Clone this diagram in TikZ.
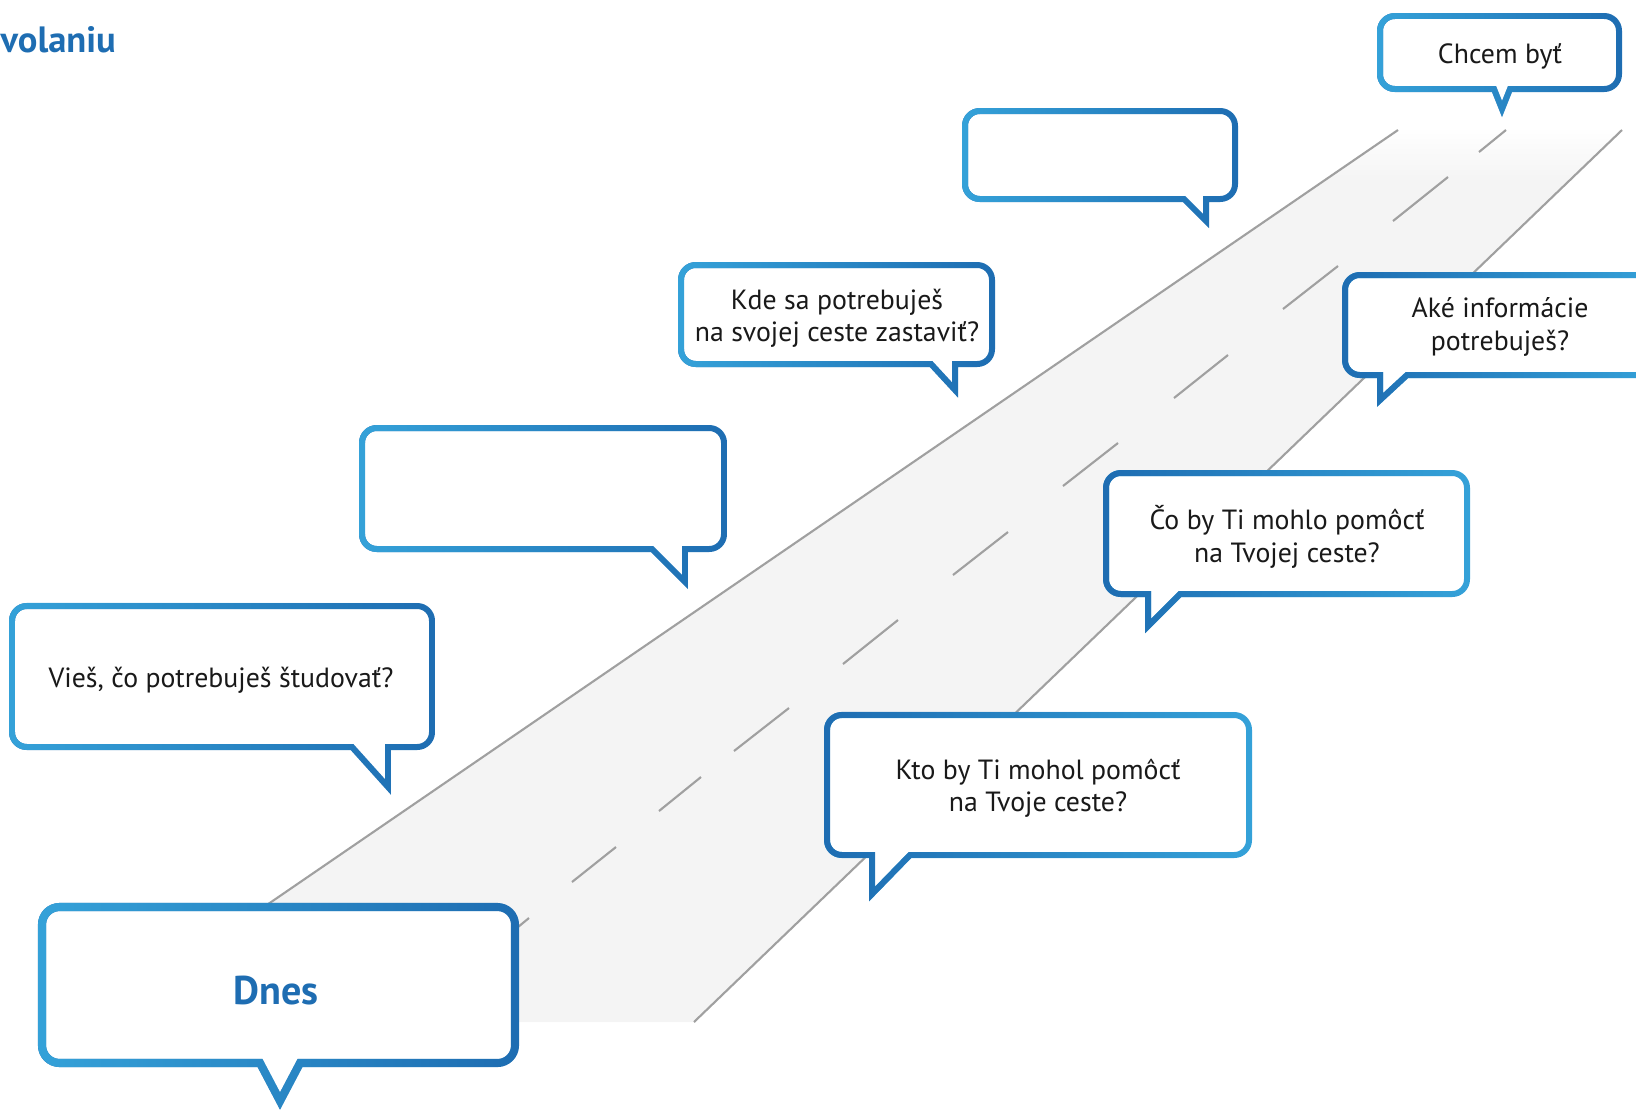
\documentclass[tikz,border=0pt]{standalone}
\usepackage{fontspec}
\setmainfont{PT Sans}
\usepackage{tikz}
\usetikzlibrary{fadings}
\definecolor{blight}{HTML}{35A2D9}
\definecolor{bdark}{HTML}{1E6DB2}
\definecolor{roadgray}{HTML}{F4F4F4}
\definecolor{linegray}{HTML}{A0A0A0}
\tikzfading[name=fadeR, left color=transparent!0, right color=transparent!100]
\tikzfading[name=fadeD, top color=transparent!0, bottom color=transparent!100]

\begin{document}
\begin{tikzpicture}[x=0.01cm,y=-0.01cm,
  roadline/.style={linegray,line width=0.6pt},
  laneline/.style={linegray,line width=0.6pt},
  bubbleLR/.style={line width=1.7pt,draw=bdark,fill=white,postaction={draw=blight,path fading=fadeR}},
  bubbleRL/.style={line width=1.7pt,draw=blight,fill=white,postaction={draw=bdark,path fading=fadeR}},
  txt/.style={inner sep=0pt,align=center,text=black!90,font=\fontsize{7.9}{9.2}\selectfont},
  bigtxt/.style={inner sep=0pt,text=bdark,font=\bfseries\fontsize{11.4}{13}\selectfont}]
\useasboundingbox (0,0) rectangle (1636,1111);
\clip (0,0) rectangle (1636,1111);
\fill[roadgray] (96,1022) -- (1398,130) -- (1622,130) -- (694,1022) -- cycle;
\fill[white,path fading=fadeD] (1300,128) rectangle (1640,185);
\draw[roadline] (96,1022) -- (1398,130);
\draw[roadline] (694,1022) -- (1622,130);
\foreach \xa/\ya/\xb/\yb in {1506/130/1479/152,1448/177/1393/221,1338/266/1283/309,1228/355/1174/398,
  1118/443/1063/486,1008/532/953/575,898/620/843/664,789/708/734/751,701/777/659/811,616/847/572/882,529/918/490/950}
  \draw[laneline] (\xa,\ya) -- (\xb,\yb);

\node[bigtxt,anchor=base west,font=\bfseries\fontsize{10.4}{12}\selectfont] (title) at (0,52) {volaniu};

\draw[bubbleLR] (1500,16) [rounded corners=4.2pt] -- (1619,16) -- (1619,89) [sharp corners] -- (1510,89) -- (1502,109) -- (1494,89) [rounded corners=4.2pt] -- (1380,89) -- (1380,16) -- cycle;
\draw[bubbleLR] (1100,111) [rounded corners=4.2pt] -- (1235,111) -- (1235,199) [sharp corners] -- (1206,199) -- (1206,221) -- (1184,199) [rounded corners=4.2pt] -- (965,199) -- (965,111) -- cycle;
\draw[bubbleLR] (836,265) [rounded corners=4.2pt] -- (992,265) -- (992,364) [sharp corners] -- (955,364) -- (955,390) -- (931,364) [rounded corners=4.2pt] -- (681,364) -- (681,265) -- cycle;
\draw[bubbleLR] (540,428) [rounded corners=4.2pt] -- (724,428) -- (724,549) [sharp corners] -- (685,549) -- (685,582) -- (652,549) [rounded corners=4.2pt] -- (362,549) -- (362,428) -- cycle;
\draw[bubbleLR] (220,606) [rounded corners=4.2pt] -- (432,606) -- (432,747) [sharp corners] -- (388,747) -- (388,787) -- (352,747) [rounded corners=4.2pt] -- (12,747) -- (12,606) -- cycle;
\draw[bubbleLR,line width=2.3pt] (280,907) [rounded corners=5pt] -- (515,907) -- (515,1063) [sharp corners] -- (300,1063) -- (280,1101) -- (260,1063) [rounded corners=5pt] -- (42,1063) -- (42,907) -- cycle;
\draw[bubbleRL] (1038,715) [rounded corners=4.2pt] -- (1249,715) -- (1249,855) [sharp corners] -- (910,855) -- (872,894) -- (872,855) [rounded corners=4.2pt] -- (827,855) -- (827,715) -- cycle;
\draw[bubbleRL] (1286,473) [rounded corners=4.2pt] -- (1467,473) -- (1467,594) [sharp corners] -- (1180,594) -- (1148,626) -- (1148,594) [rounded corners=4.2pt] -- (1106,594) -- (1106,473) -- cycle;
\draw[bubbleRL] (1500,275) [rounded corners=4.2pt] -- (1660,275) -- (1660,375) [sharp corners] -- (1407,375) -- (1380,400) -- (1380,375) [rounded corners=4.2pt] -- (1345,375) -- (1345,275) -- cycle;

\node[txt] (chcem) at (1500,56) {Chcem byť};
\node[txt] (kde) at (837,318) {Kde sa potrebuješ\\na svojej ceste zastaviť?};
\node[txt] (vies) at (221,680) {Vieš, čo potrebuješ študovať?};
\node[txt] (kto) at (1038,788) {Kto by Ti mohol pomôcť\\na Tvoje ceste?};
\node[txt] (co) at (1287,537) {Čo by Ti mohlo pomôcť\\na Tvojej ceste?};
\node[txt] (ake) at (1500,327) {Aké informácie\\potrebuješ?};
\node[bigtxt] (dnes) at (276,991) {Dnes};
\end{tikzpicture}
\end{document}
